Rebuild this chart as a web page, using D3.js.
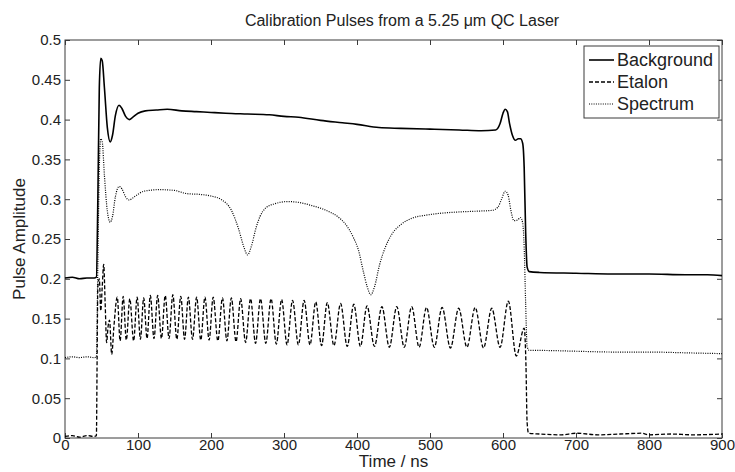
<!DOCTYPE html>
<html><head><meta charset="utf-8">
<script src="https://cdn.jsdelivr.net/npm/d3@7"></script>
<style>body{margin:0;background:#fff;} text{font-family:"Liberation Sans",Arial,sans-serif;fill:#222;}</style>
</head><body><svg id="c" width="735" height="472"></svg>
<script>
// ---- data ----
const chartTitle = "Calibration Pulses from a 5.25 \u03bcm QC Laser";
const xLabel = "Time / ns";
const yLabel = "Pulse Amplitude";
const xTicks = [0, 100, 200, 300, 400, 500, 600, 700, 800, 900];
const yTicks = [0, 0.05, 0.1, 0.15, 0.2, 0.25, 0.3, 0.35, 0.4, 0.45, 0.5];
const seriesNames = ["Background", "Etalon", "Spectrum"];

// [time ns, amplitude]
const background = [[0,0.201],[10,0.202],[20,0.200],[30,0.201],[40,0.201],[43,0.202],[45,0.30],[47,0.44],[49,0.477],[51,0.474],[54,0.44],[58,0.39],[62,0.372],[65,0.38],[69,0.405],[74,0.418],[78,0.414],[83,0.404],[88,0.400],[93,0.403],[100,0.408],[110,0.411],[125,0.412],[140,0.413],[160,0.411],[180,0.410],[200,0.409],[220,0.408],[250,0.407],[280,0.406],[300,0.404],[320,0.403],[350,0.399],[380,0.396],[400,0.394],[430,0.390],[460,0.389],[500,0.388],[540,0.387],[570,0.386],[590,0.387],[596,0.395],[600,0.408],[603,0.413],[606,0.410],[609,0.395],[613,0.380],[617,0.374],[621,0.376],[624,0.376],[627,0.370],[629,0.34],[631,0.26],[633,0.215],[636,0.209],[650,0.208],[700,0.207],[750,0.206],[800,0.206],[850,0.205],[880,0.205],[900,0.204]];

const spectrum = [[0,0.101],[10,0.102],[20,0.101],[30,0.102],[40,0.101],[43,0.102],[45,0.22],[47,0.34],[49,0.376],[51,0.372],[54,0.33],[58,0.285],[62,0.271],[65,0.278],[69,0.303],[74,0.316],[78,0.313],[83,0.303],[88,0.299],[95,0.303],[108,0.310],[130,0.312],[150,0.311],[167,0.307],[185,0.306],[200,0.304],[215,0.299],[228,0.286],[238,0.262],[245,0.240],[250,0.230],[255,0.240],[262,0.265],[267,0.278],[275,0.289],[290,0.295],[305,0.297],[320,0.296],[338,0.292],[355,0.287],[375,0.277],[384,0.269],[395,0.252],[402,0.236],[409,0.208],[414,0.190],[419,0.180],[424,0.190],[431,0.218],[439,0.240],[447,0.255],[460,0.268],[475,0.276],[495,0.280],[511,0.282],[540,0.284],[565,0.285],[585,0.286],[593,0.290],[598,0.300],[603,0.310],[607,0.305],[611,0.285],[615,0.273],[620,0.274],[624,0.277],[627,0.270],[629,0.24],[631,0.17],[633,0.115],[636,0.110],[650,0.110],[700,0.109],[750,0.108],[800,0.108],[850,0.107],[900,0.106]];

const etalon = [[0,0.002],[10,0.003],[20,0.001],[30,0.003],[40,0.002],[43,0.003],[44,0.10],[45,0.19],[47,0.200],[49,0.16],[51,0.19],[53,0.218],[55,0.17],[57,0.120],[59,0.140],[61,0.148],[64,0.105],[67,0.14],[71.6,0.177],[75.5,0.122],[79.7,0.178],[84,0.123],[88.8,0.175],[94,0.122],[98.8,0.177],
[103.3,0.124],[107.8,0.176],[112.4,0.125],[116.9,0.179],[121.9,0.125],[126.9,0.179],[132.1,0.125],[137.3,0.179],[142.5,0.125],[147.7,0.180],[153.2,0.124],[158.6,0.178],[163.8,0.124],[169.0,0.177],[174.7,0.124],[180.3,0.177],[186.0,0.123],[191.7,0.177],[197.4,0.123],[203.0,0.177],[209.4,0.122],[215.7,0.176],[221.8,0.122],[227.9,0.176],[234.3,0.121],[240.6,0.175],[247.4,0.120],[254.2,0.175],[261.0,0.119],[267.8,0.175],[275.1,0.119],[282.3,0.175],[289.5,0.118],[296.7,0.174],[304.2,0.117],[311.7,0.173],[319.7,0.117],[327.6,0.173],[335.6,0.117],[343.5,0.171],[351.4,0.116],[359.3,0.170],[368.4,0.116],[377.5,0.169],[386.6,0.115],[395.6,0.168],[404.7,0.115],[413.7,0.166],[423.9,0.115],[434.1,0.165],[444.3,0.114],[454.5,0.165],[464.7,0.114],[474.9,0.165],[485.1,0.114],[495.2,0.164],[505.9,0.114],[516.6,0.164],[528.0,0.113],[539.3,0.163],[550.6,0.114],[561.9,0.164],[573.3,0.113],[584.6,0.163],[596.0,0.114],[607.3,0.172],[618.2,0.103],[629.0,0.138],
[631.5,0.09],[633,0.02],[635,0.006],[650,0.005],[680,0.004],[700,0.006],[730,0.004],[760,0.005],[790,0.006],[800,0.004],[830,0.005],[860,0.004],[900,0.005]];

// ---- layout ----
const L = 65, R = 722, T = 40, B = 438;
const svg = d3.select("#c");
const x = d3.scaleLinear().domain([0, 900]).range([L, R]);
const y = d3.scaleLinear().domain([0, 0.5]).range([B, T]);
const axisColor = "#3a3a3a";

function styleAxis(g){
  g.selectAll(".domain").remove();
  g.selectAll(".tick line").attr("stroke", axisColor);
  g.selectAll(".tick text").style("font-size", "15px").attr("fill", "#222");
}

svg.append("g").attr("transform", `translate(0,${B})`)
  .call(d3.axisBottom(x).tickValues(xTicks).tickSizeInner(-5).tickSizeOuter(0).tickPadding(1).tickFormat(d3.format("d")))
  .call(styleAxis);
svg.append("g").attr("transform", `translate(0,${T})`)
  .call(d3.axisTop(x).tickValues(xTicks).tickSizeInner(-5).tickSizeOuter(0).tickFormat(""))
  .call(styleAxis);
svg.append("g").attr("transform", `translate(${L},0)`)
  .call(d3.axisLeft(y).tickValues(yTicks).tickSizeInner(-5).tickSizeOuter(0).tickPadding(4).tickFormat(d => String(d)))
  .call(styleAxis);
svg.append("g").attr("transform", `translate(${R},0)`)
  .call(d3.axisRight(y).tickValues(yTicks).tickSizeInner(-5).tickSizeOuter(0).tickFormat(""))
  .call(styleAxis);

svg.append("rect").attr("x", L).attr("y", T).attr("width", R - L).attr("height", B - T)
  .attr("fill", "none").attr("stroke", axisColor).attr("stroke-width", 1);

// ---- lines ----
const line = d3.line().x(d => x(d[0])).y(d => y(d[1])).curve(d3.curveMonotoneX);
const styles = {
  Background: {data: background, dash: null, w: 1.6},
  Etalon: {data: etalon, dash: "4,2", w: 1.3},
  Spectrum: {data: spectrum, dash: "1,1.3", w: 1.2}
};
seriesNames.forEach(n => {
  const s = styles[n];
  svg.append("path").attr("d", line(s.data)).attr("fill", "none").attr("stroke", "#000")
    .attr("stroke-width", s.w).attr("stroke-dasharray", s.dash);
});

// ---- texts ----
svg.append("text").attr("x", 402).attr("y", 26).attr("text-anchor", "middle")
  .style("font-size", "16px").text(chartTitle);
svg.append("text").attr("x", (L + R) / 2).attr("y", 467).attr("text-anchor", "middle")
  .style("font-size", "17px").text(xLabel);
svg.append("text").attr("transform", `translate(25,${(T + B) / 2}) rotate(-90)`).attr("text-anchor", "middle")
  .style("font-size", "17px").text(yLabel);

// ---- legend ----
const lg = svg.append("g");
lg.append("rect").attr("x", 584).attr("y", 46).attr("width", 135).attr("height", 72)
  .attr("fill", "#fff").attr("stroke", axisColor);
seriesNames.forEach((n, i) => {
  const cy = 60 + i * 22;
  const s = styles[n];
  lg.append("line").attr("x1", 589).attr("x2", 614).attr("y1", cy).attr("y2", cy)
    .attr("stroke", "#000").attr("stroke-width", s.w).attr("stroke-dasharray", s.dash);
  lg.append("text").attr("x", 617).attr("y", cy + 6).style("font-size", "18px").text(n);
});
</script></body></html>
